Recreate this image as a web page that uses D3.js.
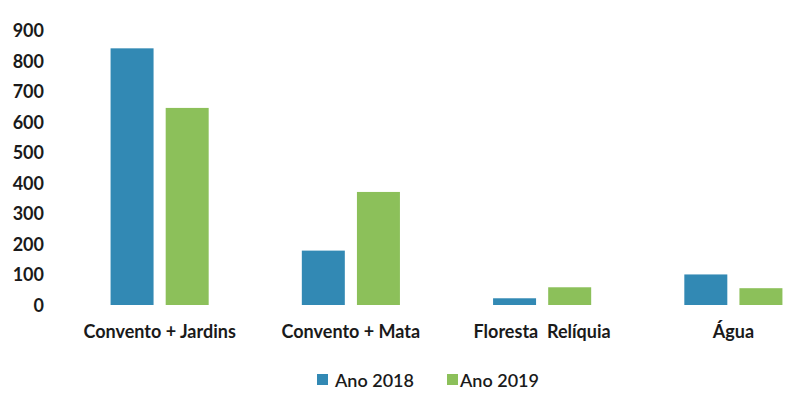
<!DOCTYPE html>
<html>
<head>
<meta charset="utf-8">
<script src="https://cdn.jsdelivr.net/npm/d3@7"></script>
<style>
  body { margin: 0; background: #fff; }
  svg { display: block; }
  text { font-family: Lato, 'Open Sans', sans-serif; fill: #1a1a1a; }
</style>
</head>
<body>
<svg id="chart"></svg>
<script>
const categories = ['Convento + Jardins', 'Convento + Mata', 'Floresta\u00a0 Relíquia', 'Água']
const series = ['Ano 2018', 'Ano 2019']
const values2018 = [840, 178, 22, 100]
const values2019 = [645, 370, 58, 55]
const yTicks = [0, 100, 200, 300, 400, 500, 600, 700, 800, 900]
const colors = ['#3289b4', '#8cc05a']

const width = 787
const height = 405

const svg = d3.select('#chart')
              .attr('width', width)
              .attr('height', height)

const rows = categories.map((c, i) => ({ cat: c, vals: [values2018[i], values2019[i]] }))

const x0 = d3.scaleBand()
             .domain(categories)
             .range([64, 829])
             .paddingInner(0.487)
             .paddingOuter(0.2435)

const x1 = d3.scaleBand()
             .domain([0, 1])
             .range([0, x0.bandwidth()])
             .paddingInner(0.22)

const y = d3.scaleLinear()
            .domain([0, 900])
            .range([305, 30])

// bars
const groups = svg.append('g')
  .selectAll('g')
  .data(rows)
  .join('g')
  .attr('transform', d => `translate(${x0(d.cat)},0)`)

groups.selectAll('rect')
  .data(d => d.vals.map((v, i) => ({ i, v })))
  .join('rect')
  .attr('x', d => x1(d.i))
  .attr('y', d => y(d.v))
  .attr('width', x1.bandwidth())
  .attr('height', d => y(0) - y(d.v))
  .attr('fill', d => colors[d.i])

// y axis, labels only
const yAxis = svg.append('g')
  .attr('transform', 'translate(44,0)')
  .call(d3.axisLeft(y).tickValues(yTicks).tickSize(0).tickPadding(0))
yAxis.select('.domain').remove()
yAxis.selectAll('text')
  .attr('font-size', 18)
  .attr('font-weight', 700)
  .attr('fill', '#1a1a1a')
  .attr('dy', '0.36em')

// x axis, labels only
const xAxis = svg.append('g')
  .attr('transform', `translate(0,${y(0)})`)
  .call(d3.axisBottom(x0).tickSize(0).tickPadding(0))
xAxis.select('.domain').remove()
xAxis.selectAll('text')
  .attr('font-size', 18)
  .attr('font-weight', 700)
  .attr('fill', '#1a1a1a')
  .attr('dy', '1.85em')

// legend
const legendX = [317, 447]
const legend = svg.append('g')
  .selectAll('g')
  .data(series)
  .join('g')
  .attr('transform', (d, i) => `translate(${legendX[i]},374)`)

legend.append('rect')
  .attr('width', 11)
  .attr('height', 11)
  .attr('fill', (d, i) => colors[i])

legend.append('text')
  .attr('x', (d, i) => i === 0 ? 18 : 13)
  .attr('y', 12.5)
  .attr('font-size', 18)
  .attr('font-weight', 600)
  .text(d => d)
</script>
</body>
</html>
